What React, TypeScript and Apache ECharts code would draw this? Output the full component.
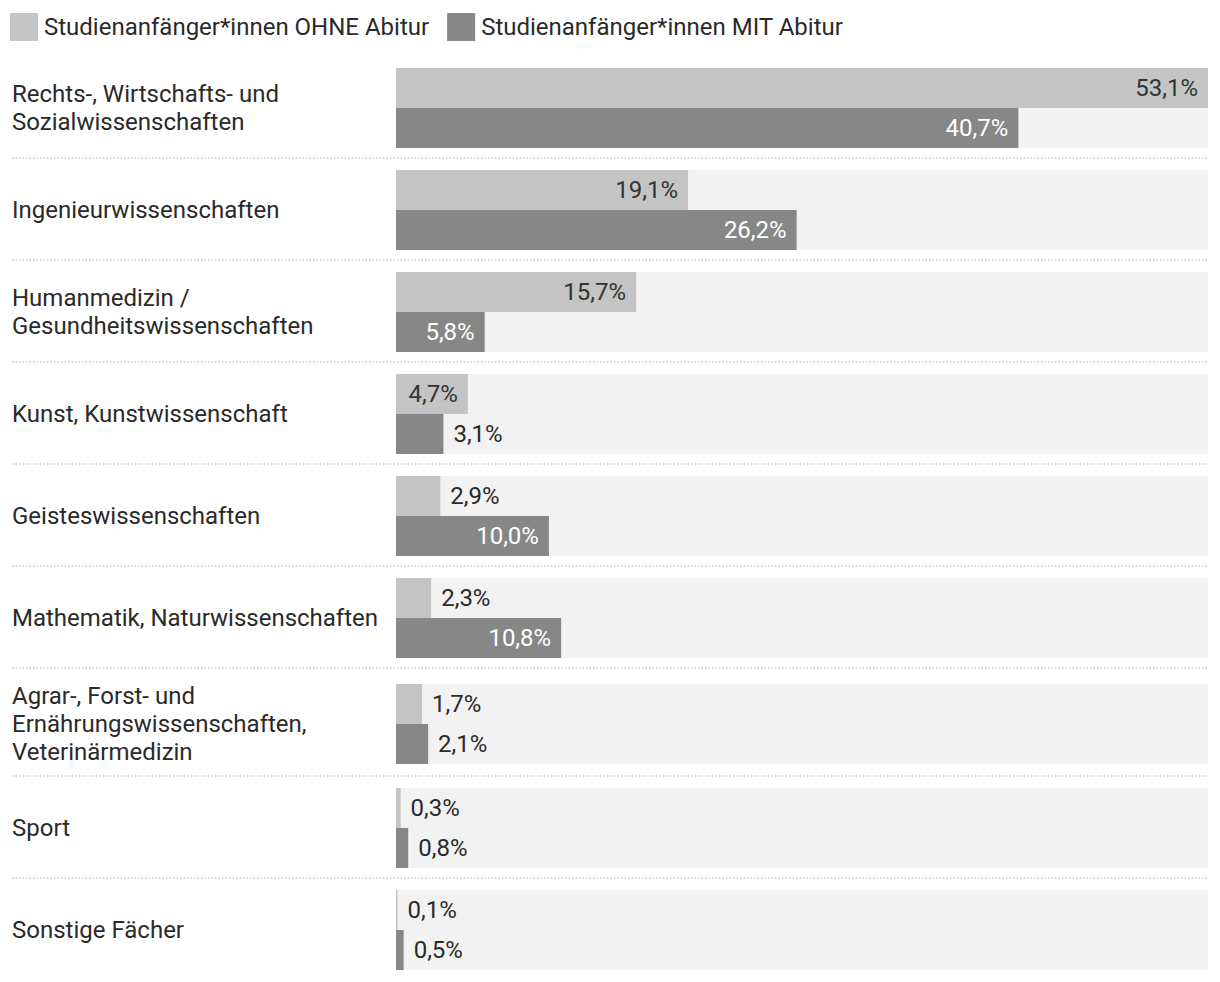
import React, { useEffect, useRef } from 'react';
import * as echarts from 'echarts';

const categories = [
  'Rechts-, Wirtschafts- und\nSozialwissenschaften',
  'Ingenieurwissenschaften',
  'Humanmedizin /\nGesundheitswissenschaften',
  'Kunst, Kunstwissenschaft',
  'Geisteswissenschaften',
  'Mathematik, Naturwissenschaften',
  'Agrar-, Forst- und\nErnährungswissenschaften,\nVeterinärmedizin',
  'Sport',
  'Sonstige Fächer',
];
const ohneAbitur = [53.1, 19.1, 15.7, 4.7, 2.9, 2.3, 1.7, 0.3, 0.1];
const mitAbitur = [40.7, 26.2, 5.8, 3.1, 10.0, 10.8, 2.1, 0.8, 0.5];
const seriesNames = ['Studienanfänger*innen OHNE Abitur', 'Studienanfänger*innen MIT Abitur'];

// layout
const rowTops = [68, 170, 272, 374, 476, 578, 684, 788, 890];
const separatorYs = [158, 260, 362, 464, 566, 668, 776, 878];
const LIGHT = '#c4c4c4';
const DARK = '#878787';
const BG = '#f2f2f2';
const FONT = 'Roboto';
const FS = 24;

const fmt = (v: number) => v.toFixed(1).replace('.', ',') + '%';

export default function App() {
  const ref = useRef<HTMLDivElement>(null);
  useEffect(() => {
    if (!ref.current) return;
    const chart = echarts.init(ref.current, undefined, { renderer: 'svg' });
    const maxV = Math.max(...ohneAbitur, ...mitAbitur);
    const grids: any[] = [];
    const xAxes: any[] = [];
    const yAxes: any[] = [];
    const series: any[] = [];
    categories.forEach((cat, i) => {
      grids.push({ left: 396, right: 12, top: rowTops[i], height: 80 });
      xAxes.push({ type: 'value', gridIndex: i, min: 0, max: maxV, show: false });
      yAxes.push({
        type: 'category',
        gridIndex: i,
        data: [cat],
        inverse: true,
        axisLine: { show: false },
        axisTick: { show: false },
        splitLine: { show: false },
        axisLabel: {
          align: 'left',
          margin: 384,
          fontFamily: FONT,
          fontSize: FS,
          lineHeight: 28,
          color: '#2a2a2a',
        },
      });
      [ohneAbitur, mitAbitur].forEach((arr, s) => {
        const v = arr[i];
        const inside = v >= 4;
        series.push({
          type: 'bar',
          name: seriesNames[s],
          xAxisIndex: i,
          yAxisIndex: i,
          barWidth: 40,
          barGap: '0%',
          showBackground: true,
          backgroundStyle: { color: BG },
          itemStyle: { color: s === 0 ? LIGHT : DARK },
          data: [
            {
              value: v,
              label: {
                show: true,
                position: inside ? 'insideRight' : 'right',
                distance: 10,
                formatter: (p: any) => fmt(p.value),
                fontFamily: FONT,
                fontSize: FS,
                color: inside ? (s === 0 ? '#333' : '#fff') : '#2a2a2a',
              },
            },
          ],
        });
      });
    });
    const graphic = separatorYs.map((y) => ({
      type: 'line',
      shape: { x1: 12, y1: y, x2: 1208, y2: y },
      style: { stroke: '#c8c8c8', lineWidth: 1.5, lineDash: [1.5, 2] },
    }));
    chart.setOption({
      animation: false,
      backgroundColor: '#fff',
      legend: {
        data: seriesNames,
        left: 5,
        top: 8,
        icon: 'rect',
        itemWidth: 28,
        itemHeight: 28,
        itemGap: 18,
        selectedMode: false,
        textStyle: { fontFamily: FONT, fontSize: FS, color: '#2a2a2a', padding: [0, 0, 0, 1] },
      },
      grid: grids,
      xAxis: xAxes,
      yAxis: yAxes,
      series,
      graphic,
    });
    return () => chart.dispose();
  }, []);
  return (
    <div
      ref={ref}
      style={{ position: 'absolute', left: 0, top: 0, width: 1220, height: 982 }}
    />
  );
}
